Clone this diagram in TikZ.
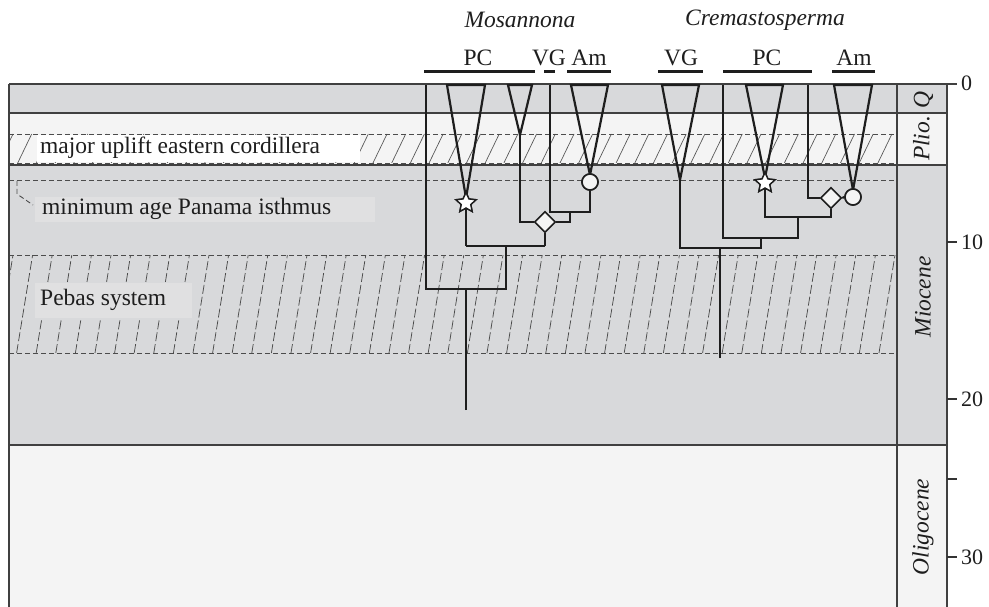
\documentclass[tikz,border=0pt]{standalone}
\usepackage{fontspec}
\setmainfont{Liberation Serif}
\usetikzlibrary{shapes.geometric}
\definecolor{bgd}{HTML}{D8D9DB}
\definecolor{bgl}{HTML}{F4F4F4}
\definecolor{boxg}{HTML}{E0E0E1}
\definecolor{ink}{HTML}{1E1E1E}
\begin{document}
\begin{tikzpicture}[x=1pt,y=-1pt,
  tree/.style={line width=2.2pt, ink, line join=miter},
  frameline/.style={line width=1.6pt, black!75},
  dline/.style={dash pattern=on 5pt off 3pt, line width=0.9pt, black!70},
  uhatch/.style={line width=0.7pt, black!65},
  phatch/.style={dash pattern=on 9pt off 3pt, line width=0.75pt, black!70},
  lbl/.style={font=\fontsize{23.5}{28}\selectfont, inner sep=0pt, text=ink},
  ilbl/.style={font=\fontsize{23.5}{28}\selectfont\itshape, inner sep=0pt, text=ink},
  num/.style={font=\fontsize{22}{26}\selectfont, inner sep=0pt, text=ink, anchor=west},
  bar/.style={line width=3pt, ink},
  starnode/.style={star, star points=5, star point ratio=2.1, minimum size=21pt, inner sep=0pt, draw=ink, fill=white, line width=1.4pt},
  dianode/.style={diamond, minimum size=21pt, inner sep=0pt, draw=ink, fill=bgl, line width=1.6pt},
  circnode/.style={circle, minimum size=16pt, inner sep=0pt, draw=ink, fill=bgl, line width=1.6pt},
  tick/.style={line width=1.6pt, black!80}]
\useasboundingbox (0,0) rectangle (989,607);
% background bands
\fill[bgd] (9,84) rectangle (947,113);
\fill[bgl] (9,113) rectangle (947,165);
\fill[bgd] (9,165) rectangle (947,445);
\fill[bgl] (9,445) rectangle (947,607);
% uplift hatch
\begin{scope}
  \clip (9,134) rectangle (897,163);
  \foreach \i in {0,...,50} \draw[uhatch] ({9+18.7*\i-10},163) -- ++(14,-29);
\end{scope}
% Pebas hatch
\begin{scope}
  \clip (9,255) rectangle (897,353);
  \foreach \i in {0,...,47} \draw[phatch] ({9+19.6*\i-12},353) -- ++(16,-98);
\end{scope}
% label boxes
\fill[white] (37,135) rectangle (360,162);
\fill[boxg] (35,197) rectangle (375,222);
\fill[boxg] (35,283) rectangle (192,318);
% dashed lines
\foreach \yy in {134,163,180,255,353} \draw[dline] (9,\yy) -- (897,\yy);
\coordinate (ld1) at (17,181);
\coordinate (ld2) at (17,194);
\coordinate (ld3) at (33,205);
\draw[dline] (ld1) -- (ld2) -- (ld3);
% frame lines
\draw[frameline] (9,84) -- (957,84);
\foreach \yy in {113,165,445} \draw[frameline] (9,\yy) -- (947,\yy);
\draw[frameline] (9,84) -- (9,607);
\draw[frameline] (897,84) -- (897,607);
\draw[frameline] (947,84) -- (947,607);
\foreach \yy in {242,399,479,557} \draw[tick] (947,\yy) -- (957,\yy);
% left labels
\node[lbl, anchor=west] (uplift) at (40,148) {major uplift eastern cordillera};
\node[lbl, anchor=west] (panama) at (42,209) {minimum age Panama isthmus};
\node[lbl, anchor=west] (pebas) at (40,300) {Pebas system};
% period labels
\node[ilbl, rotate=90] (plio) at (923,126) {Plio.\,\,Q};
\node[ilbl, rotate=90] (mio) at (923,297) {Miocene};
\node[ilbl, rotate=90] (oligo) at (923,527) {Oligocene};
% tick labels
\node[num] (t0) at (961,83) {0};
\node[num] (t10) at (961,242) {10};
\node[num] (t20) at (961,399) {20};
\node[num] (t30) at (961,557) {30};
% genus and area labels
\node[ilbl] (mos) at (520,20) {Mosannona};
\node[ilbl] (crem) at (765,20) {Cremastosperma};
\node[lbl] (mpc) at (478,58) {PC};
\node[lbl] (mvg) at (549,58) {VG};
\node[lbl] (mam) at (589,58) {Am};
\node[lbl] (cvg) at (681,58) {VG};
\node[lbl] (cpc) at (767,58) {PC};
\node[lbl] (cam) at (854,58) {Am};
\draw[bar] (424,72) -- (535,72);
\draw[bar] (544,72) -- (555,72);
\draw[bar] (567,72) -- (611,72);
\draw[bar] (658,72) -- (703,72);
\draw[bar] (723,72) -- (812,72);
\draw[bar] (832,72) -- (875,72);
% ---------------- Mosannona tree
\coordinate (mroot) at (466,410);
\coordinate (mr) at (466,289);
\coordinate (mrl) at (426,289);
\coordinate (mrr) at (506,289);
\coordinate (mtipA) at (426,85);
\coordinate (mn2) at (506,246);
\coordinate (mn2l) at (466,246);
\coordinate (mn2r) at (545,246);
\coordinate (mn3l) at (520,222);
\coordinate (mn3r) at (570,222);
\coordinate (mn4) at (570,212);
\coordinate (mn4l) at (550,212);
\coordinate (mn4r) at (590,212);
\coordinate (mtipB) at (550,85);
\coordinate (mapex2) at (520,135);
\draw[tree] (mroot) -- (mr);
\draw[tree] (mtipA) -- (mrl) -- (mrr) -- (mn2);
\draw[tree] (mn2l) -- (mn2r);
\node[starnode] (mstar) at (466,203) {};
\node[dianode] (mdia) at (545,222) {};
\node[circnode] (mcirc) at (590,182) {};
\draw[tree] (mn2l) -- (mstar.center);
\draw[tree] (mn2r) -- (mdia.south);
\draw[tree] (mapex2) -- (mn3l) -- (mdia.west);
\draw[tree] (mdia.east) -- (mn3r) -- (mn4);
\draw[tree] (mtipB) -- (mn4l) -- (mn4r) -- (mcirc.south);
\draw[tree] (447,85) -- (466,198) -- (485,85) -- cycle;
\draw[tree] (508,85) -- (mapex2) -- (532,85) -- cycle;
\draw[tree] (571,85) -- (590,175) -- (608,85) -- cycle;
\node[starnode] at (mstar) {};
\node[circnode] at (mcirc) {};
% ---------------- Cremastosperma tree
\coordinate (croot) at (720,358);
\coordinate (crl) at (680,248);
\coordinate (crr) at (761,248);
\coordinate (capexV) at (680,180);
\coordinate (cn2) at (761,238);
\coordinate (cn2l) at (723,238);
\coordinate (cn2r) at (798,238);
\coordinate (ctipA) at (723,85);
\coordinate (cn3) at (798,217);
\coordinate (cn3l) at (765,217);
\coordinate (cn3r) at (831,217);
\coordinate (cn4l) at (808,198);
\coordinate (ctipB) at (808,85);
\draw[tree] (croot) -- (720,248);
\draw[tree] (capexV) -- (crl) -- (crr) -- (cn2);
\draw[tree] (ctipA) -- (cn2l) -- (cn2r) -- (cn3);
\node[starnode] (cstar) at (765,183) {};
\node[dianode] (cdia) at (831,198) {};
\node[circnode] (ccirc) at (853,197) {};
\draw[tree] (cstar.center) -- (cn3l) -- (cn3r) -- (cdia.south);
\draw[tree] (ctipB) -- (cn4l) -- (cdia.west);
\draw[tree] (cdia.east) -- (ccirc.west);
\draw[tree] (662,85) -- (capexV) -- (699,85) -- cycle;
\draw[tree] (746,85) -- (765,178) -- (783,85) -- cycle;
\draw[tree] (834,85) -- (853,190) -- (872,85) -- cycle;
\node[starnode] at (cstar) {};
\node[circnode] at (ccirc) {};
\end{tikzpicture}
\end{document}
